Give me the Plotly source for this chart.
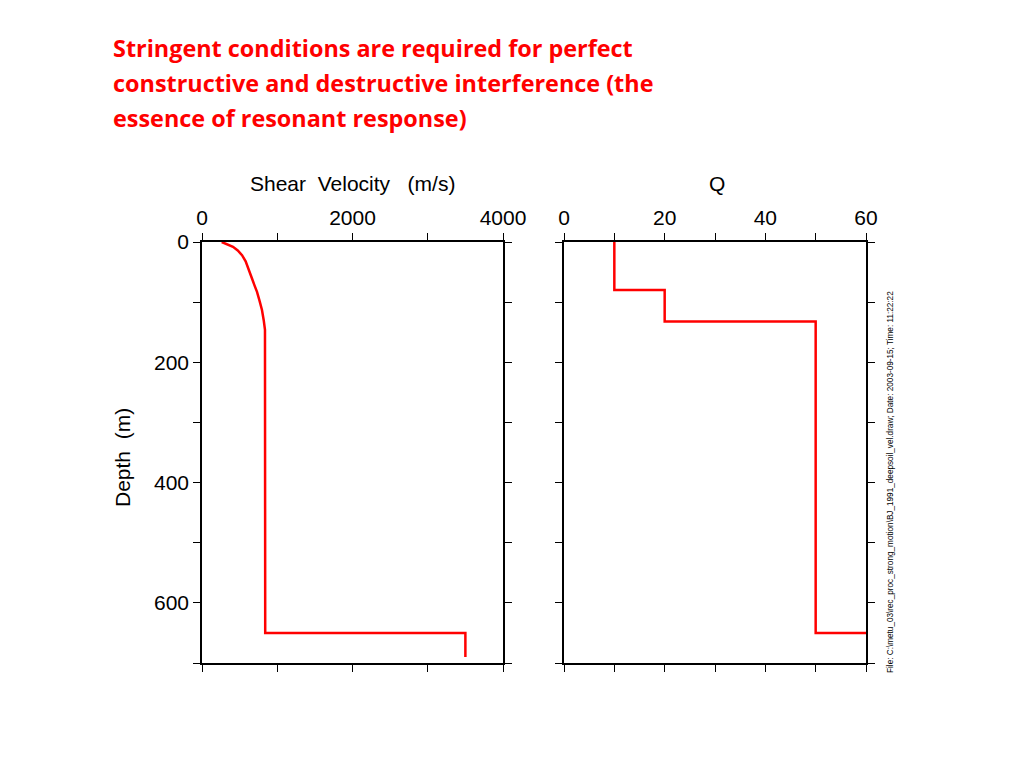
import plotly.graph_objects as go

# Shear velocity profile (m/s) vs depth (m)
vel_depth = [0, 4, 8, 14, 22, 32, 42, 52, 62, 73, 83, 98, 113, 130, 146, 650, 650, 690]
vel_value = [262, 340, 412, 475, 532, 580, 612, 638, 668, 700, 731, 765, 797, 820, 837, 840, 3500, 3500]

# Q profile vs depth (m)
q_depth = [0, 80, 80, 132, 132, 650, 650]
q_value = [10, 10, 20, 20, 50, 50, 60]

vel_tickvals = [0, 1000, 2000, 3000, 4000]
vel_ticktext = ["0", "", "2000", "", "4000"]
q_tickvals = [0, 10, 20, 30, 40, 50, 60]
q_ticktext = ["0", "", "20", "", "40", "", "60"]
depth_tickvals = [0, 100, 200, 300, 400, 500, 600, 700]
depth_ticktext = ["0", "", "200", "", "400", "", "600", ""]

title_lines = ["Stringent conditions are required for perfect",
               "constructive and destructive interference (the",
               "essence of resonant response)"]
file_note = "File: C:\\metu_03\\rec_proc_strong_motion\\BJ_1991_deepsoil_vel.draw; Date: 2003-09-15; Time: 11:22:22"

W, H = 1024, 768
OFF = 8  # page body margin
def px(x): return (x - OFF) / W
def py(y): return 1 - (y - OFF) / H

fig = go.Figure()
fig.add_trace(go.Scatter(x=vel_value, y=vel_depth, mode="lines",
                         line=dict(color="#ff0000", width=2.5), xaxis="x", yaxis="y", showlegend=False))
fig.add_trace(go.Scatter(x=q_value, y=q_depth, mode="lines",
                         line=dict(color="#ff0000", width=2.5), xaxis="x2", yaxis="y2", showlegend=False))

AX_FONT = "Liberation Sans, Arial, sans-serif"
tickfont = dict(family=AX_FONT, size=21, color="black")
common_x = dict(side="top", showline=True, linecolor="black", linewidth=1.5, mirror="allticks",
                ticks="outside", ticklen=7, tickwidth=1.3, tickcolor="black", showgrid=False,
                zeroline=False, tickfont=tickfont, automargin=False, fixedrange=True)
common_y = dict(showline=True, linecolor="black", linewidth=1.5, mirror="allticks",
                ticks="outside", ticklen=7, tickwidth=1.3, tickcolor="black", showgrid=False,
                zeroline=False, tickfont=tickfont, range=[700, 0], automargin=False,
                tickvals=depth_tickvals, fixedrange=True)

fig.update_layout(
    width=W, height=H, margin=dict(l=0, r=0, t=0, b=0),
    paper_bgcolor="white", plot_bgcolor="white",
    xaxis=dict(domain=[px(202), px(503)], range=[0, 4000], anchor="y",
               tickvals=vel_tickvals, ticktext=vel_ticktext, **common_x),
    yaxis=dict(domain=[py(663), py(242)], anchor="x", ticktext=depth_ticktext, **common_y),
    xaxis2=dict(domain=[px(564), px(866)], range=[0, 60], anchor="y2",
                tickvals=q_tickvals, ticktext=q_ticktext, **common_x),
    yaxis2=dict(domain=[py(663), py(242)], anchor="x2", showticklabels=False, **common_y),
)

annots = []
for i, line in enumerate(title_lines):
    annots.append(dict(text=line, x=px(111), y=py(48 + i * 35), xref="paper", yref="paper",
                       xanchor="left", yanchor="middle", showarrow=False,
                       font=dict(family="Open Sans", size=23.4, color="#ff0000", weight="bold")))
annots.append(dict(text="Shear  Velocity   (m/s)", x=px(352), y=py(184), xref="paper", yref="paper",
                   xanchor="center", yanchor="middle", showarrow=False,
                   font=dict(family=AX_FONT, size=21, color="black")))
annots.append(dict(text="Q", x=px(717), y=py(184), xref="paper", yref="paper",
                   xanchor="center", yanchor="middle", showarrow=False,
                   font=dict(family=AX_FONT, size=21, color="black")))
annots.append(dict(text="Depth  (m)", x=px(122), y=py(458), xref="paper", yref="paper",
                   xanchor="center", yanchor="middle", showarrow=False, textangle=-90,
                   font=dict(family=AX_FONT, size=21, color="black")))
annots.append(dict(text=file_note, x=px(890), y=py(482), xref="paper", yref="paper",
                   xanchor="center", yanchor="middle", showarrow=False, textangle=-90,
                   font=dict(family=AX_FONT, size=8.2, color="black")))
fig.update_layout(annotations=annots)

fig.write_html("out.html", config={"displayModeBar": False})
